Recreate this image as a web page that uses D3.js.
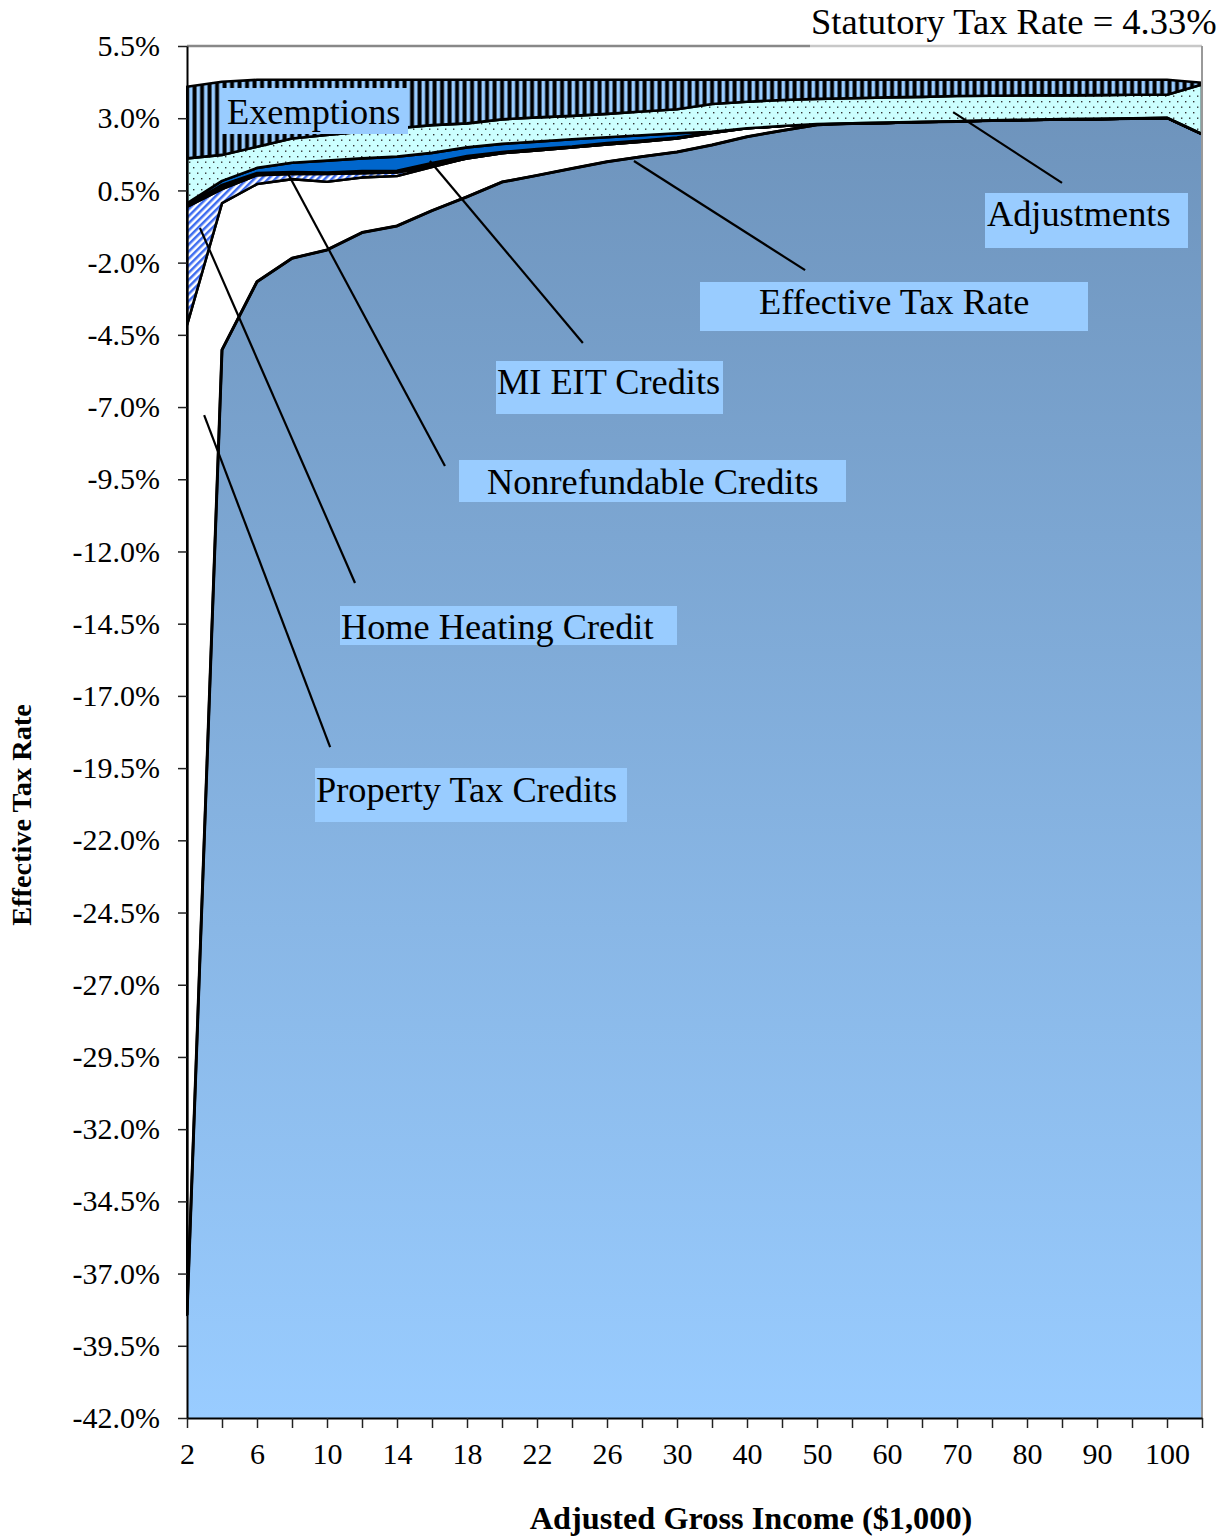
<!DOCTYPE html>
<html><head><meta charset="utf-8">
<script src="https://cdn.jsdelivr.net/npm/d3@7"></script>
<style>
html,body{margin:0;padding:0;background:#fff;}
svg{display:block;font-family:"Liberation Serif","Times New Roman",serif;}
</style></head>
<body>
<svg id="chart" width="1224" height="1537"></svg>
<script>
// ---------- data ----------
const categories = ["2","4","6","8","10","12","14","16","18","20","22","24","26","28","30",
  "35","40","45","50","55","60","65","70","75","80","85","90","95","100","105"];
const effectiveRate = [-38.43,-5.02,-2.66,-1.85,-1.56,-0.96,-0.73,-0.20,0.28,0.79,1.02,1.26,1.49,1.67,1.83,
  2.07,2.36,2.57,2.77,2.82,2.84,2.87,2.89,2.92,2.94,2.96,2.97,2.99,3.01,2.45];
const propertyTaxCredits = [34.27,5.08,3.38,2.74,2.36,1.91,1.73,1.51,1.33,1.00,0.86,0.73,0.60,0.52,0.47,
  0.42,0.29,0.16,0.03,0,0,0,0,0,0,0,0,0,0,0];
const homeHeatingCredit = [4.09,0.49,0.31,0.18,0.27,0.15,0.12,0.04,0,0,0,0,0,0,0,
  0,0,0,0,0,0,0,0,0,0,0,0,0,0,0];
const nonrefundableCredits = [0.05,0.14,0.07,0.07,0.05,0.07,0.06,0.10,0.08,0.04,0.05,0.03,0.05,0.04,0.03,
  0.01,0,0,0,0,0,0,0,0,0,0,0,0,0,0];
const miEitCredits = [0.07,0.14,0.18,0.32,0.41,0.44,0.49,0.35,0.30,0.28,0.26,0.25,0.20,0.18,0.15,
  0.03,0,0,0,0,0,0,0,0,0,0,0,0,0,0];
const adjustments = [1.56,0.90,0.73,0.84,0.89,0.92,0.98,0.96,0.83,0.85,0.84,0.81,0.81,0.82,0.83,
  0.96,0.92,0.90,0.87,0.87,0.88,0.87,0.88,0.86,0.85,0.83,0.83,0.82,0.80,1.72];
const exemptions = [2.48,2.53,2.32,2.03,1.91,1.80,1.68,1.57,1.51,1.37,1.30,1.25,1.18,1.10,1.02,
  0.84,0.76,0.70,0.66,0.64,0.61,0.59,0.56,0.55,0.54,0.54,0.53,0.52,0.52,0.06];
const yTickValues = [5.5,3.0,0.5,-2.0,-4.5,-7.0,-9.5,-12.0,-14.5,-17.0,-19.5,-22.0,-24.5,-27.0,-29.5,-32.0,-34.5,-37.0,-39.5,-42.0];
const yDomain = [-42, 5.5];
const statutoryText = "Statutory Tax Rate = 4.33%";
const xTitle = "Adjusted Gross Income ($1,000)";
const yTitle = "Effective Tax Rate";

// annotations: pointer ends in data units (category index, %), boxes in layout px
const annotations = [
  {text:"Exemptions", box:[222,88,186,46], tx:227, ty:124, ptr:null},
  {text:"Adjustments", box:[985,193,203,55], tx:987, ty:226, ptr:[[21.89,3.21],[25.0,0.76]]},
  {text:"Effective Tax Rate", box:[700,282,388,49], tx:759, ty:314, ptr:[[12.77,1.52],[17.66,-2.26]]},
  {text:"MI EIT Credits", box:[496,361,227,53], tx:497, ty:394, ptr:[[6.94,1.52],[11.31,-4.78]]},
  {text:"Nonrefundable Credits", box:[459,460,387,42], tx:487, ty:494, ptr:[[2.86,1.14],[7.37,-9.04]]},
  {text:"Home Heating Credit", box:[340,606,337,39], tx:341, ty:639, ptr:[[0.37,-0.80],[4.8,-13.09]]},
  {text:"Property Tax Credits", box:[315,768,312,54], tx:316, ty:802, ptr:[[0.49,-7.28],[4.09,-18.77]]}
];

// ---------- layout ----------
const L = 187, R = 1202, T = 46, B = 1418;
const svg = d3.select("#chart");
const x = d3.scalePoint().domain(categories).range([L, R]);
const xi = d3.scaleLinear().domain([0, categories.length - 1]).range([L, R]);
const y = d3.scaleLinear().domain(yDomain).range([B, T]);

const defs = svg.append("defs");
const grad = defs.append("linearGradient").attr("id","blueGrad")
  .attr("gradientUnits","userSpaceOnUse").attr("x1",0).attr("y1",T).attr("x2",0).attr("y2",B);
grad.append("stop").attr("offset",0).attr("stop-color","#6c91b9");
grad.append("stop").attr("offset",1).attr("stop-color","#99ccff");

const hatch = defs.append("pattern").attr("id","hatch").attr("patternUnits","userSpaceOnUse")
  .attr("width",5).attr("height",5).attr("patternTransform","rotate(45)");
hatch.append("rect").attr("width",5).attr("height",5).attr("fill","#ffffff");
hatch.append("rect").attr("width",2.5).attr("height",5).attr("fill","#3d6cf0");

const dots = defs.append("pattern").attr("id","dots").attr("patternUnits","userSpaceOnUse")
  .attr("width",8).attr("height",11);
dots.append("rect").attr("width",8).attr("height",11).attr("fill","#ccffff");
dots.append("rect").attr("x",1).attr("y",2).attr("width",1.4).attr("height",1.4).attr("fill","#333");
dots.append("rect").attr("x",5).attr("y",7.5).attr("width",1.4).attr("height",1.4).attr("fill","#333");

const vstripes = defs.append("pattern").attr("id","vstripes").attr("patternUnits","userSpaceOnUse")
  .attr("width",7.5).attr("height",10);
vstripes.append("rect").attr("width",7.5).attr("height",10).attr("fill","#000");
vstripes.append("rect").attr("x",1.5).attr("width",3.6).attr("height",10).attr("fill","#99ccff");

defs.append("clipPath").attr("id","plotClip").append("rect")
  .attr("x",L-1).attr("y",T).attr("width",R-L+2).attr("height",B-T);

// cumulative stacking
const layers = [
  {vals: propertyTaxCredits, fill: "#ffffff"},
  {vals: homeHeatingCredit, fill: "url(#hatch)"},
  {vals: nonrefundableCredits, fill: "#000000"},
  {vals: miEitCredits, fill: "#0066cc"},
  {vals: adjustments, fill: "url(#dots)"},
  {vals: exemptions, fill: "url(#vstripes)"}
];
let cum = effectiveRate.slice();
layers.forEach(l => {
  l.lo = cum.slice();
  l.hi = cum.map((c, i) => c + l.vals[i]);
  cum = l.hi;
});

const plot = svg.append("g").attr("clip-path","url(#plotClip)");
const idx = d3.range(categories.length);

// effective tax rate area
plot.append("path").datum(idx)
  .attr("d", d3.area().x(i => x(categories[i])).y0(y(yDomain[0])).y1(i => y(effectiveRate[i])))
  .attr("fill","url(#blueGrad)");

layers.forEach(l => {
  plot.append("path").datum(idx)
    .attr("d", d3.area().x(i => x(categories[i])).y0(i => y(l.lo[i])).y1(i => y(l.hi[i])))
    .attr("fill", l.fill).attr("stroke","#000").attr("stroke-width",2.6)
    .attr("stroke-linejoin","round");
});

plot.append("path").datum(idx)
  .attr("d", d3.line().x(i => x(categories[i])).y(i => y(effectiveRate[i])))
  .attr("fill","none").attr("stroke","#000").attr("stroke-width",3).attr("stroke-linejoin","round");

// plot border (top & right)
svg.append("line").attr("x1",L).attr("x2",810).attr("y1",T).attr("y2",T)
  .attr("stroke","#888").attr("stroke-width",2.5);
svg.append("line").attr("x1",810).attr("x2",R).attr("y1",T).attr("y2",T)
  .attr("stroke","#c8c8c8").attr("stroke-width",2.5);
svg.append("line").attr("x1",R).attr("x2",R).attr("y1",T).attr("y2",B)
  .attr("stroke","#999").attr("stroke-width",2);

// axes
const yAxis = svg.append("g").attr("transform",`translate(${L},0)`)
  .call(d3.axisLeft(y).tickValues(yTickValues).tickSize(9).tickSizeOuter(0).tickPadding(18)
    .tickFormat(v => v.toFixed(1) + "%"));
const xAxis = svg.append("g").attr("transform",`translate(0,${B})`)
  .call(d3.axisBottom(x).tickSize(10).tickSizeOuter(0).tickPadding(15)
    .tickFormat((d, i) => i % 2 === 0 ? d : ""));
[yAxis, xAxis].forEach(g => {
  g.select(".domain").attr("stroke","#000").attr("stroke-width",2);
  g.selectAll(".tick line").attr("stroke","#222").attr("stroke-width",1.5);
  g.selectAll("text").attr("fill","#000").attr("font-size",30)
    .attr("font-family",'"Liberation Serif","Times New Roman",serif');
});

// annotations
annotations.forEach(a => {
  if (a.ptr) {
    svg.append("line")
      .attr("x1", xi(a.ptr[0][0])).attr("y1", y(a.ptr[0][1]))
      .attr("x2", xi(a.ptr[1][0])).attr("y2", y(a.ptr[1][1]))
      .attr("stroke","#000").attr("stroke-width",2.2);
  }
});
annotations.forEach(a => {
  svg.append("rect").attr("x",a.box[0]).attr("y",a.box[1]).attr("width",a.box[2]).attr("height",a.box[3])
    .attr("fill","#99ccff");
  svg.append("text").attr("x",a.tx).attr("y",a.ty).attr("font-size",36.3).attr("fill","#000").text(a.text);
});

// titles
svg.append("text").attr("x",811).attr("y",34).attr("font-size",36.5).attr("fill","#000").text(statutoryText);
svg.append("text").attr("x",751).attr("y",1529).attr("text-anchor","middle")
  .attr("font-size",32.3).attr("font-weight","bold").text(xTitle);
svg.append("text").attr("transform","translate(31,815) rotate(-90)").attr("text-anchor","middle")
  .attr("font-size",28.3).attr("font-weight","bold").text(yTitle);
</script>
</body></html>
